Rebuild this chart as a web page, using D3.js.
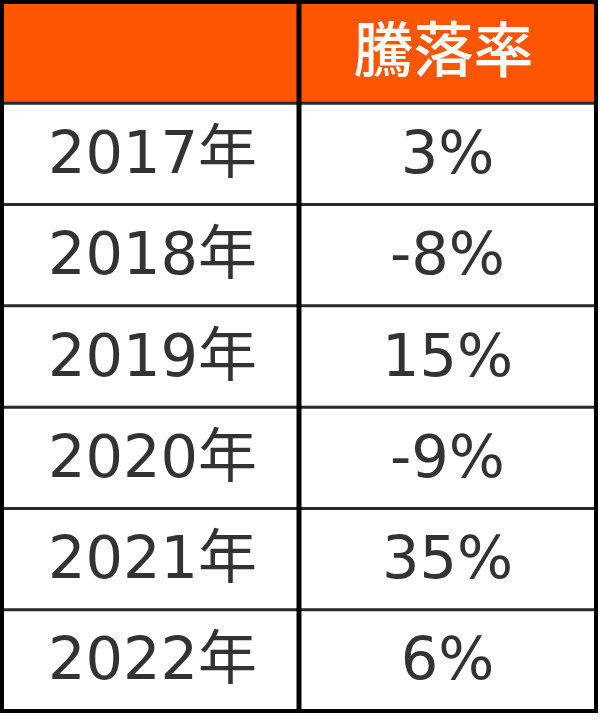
<!DOCTYPE html>
<meta charset="utf-8">
<style>
  body { margin: 0; background: #fff; }
</style>
<body>
<svg width="600" height="720"></svg>
<script src="https://cdn.jsdelivr.net/npm/d3@7"></script>
<script>
  // table data
  var header = ['', '騰落率'];
  var years = ['2017年', '2018年', '2019年', '2020年', '2021年', '2022年'];
  var rates = ['3%', '-8%', '15%', '-9%', '35%', '6%'];

  var svg = d3.select('svg');
  var g = svg.append('g');

  var rowKeys = ['header'].concat(years);
  var y = d3.scaleBand().domain(rowKeys).range([2, 711]);
  var x = d3.scaleBand().domain([0, 1]).range([2, 596]);

  var orange = '#ff5500';
  var textColor = '#333';

  // header background
  g.append('rect')
    .attr('x', x.range()[0])
    .attr('y', y('header'))
    .attr('width', x.range()[1] - x.range()[0])
    .attr('height', y.bandwidth())
    .attr('fill', orange);

  // horizontal row lines
  g.selectAll('.hline')
    .data(years)
    .enter()
    .append('line')
    .attr('class', 'hline')
    .attr('x1', x.range()[0])
    .attr('x2', x.range()[1])
    .attr('y1', function (d) { return y(d); })
    .attr('y2', function (d) { return y(d); })
    .attr('stroke', '#2a2a2a')
    .attr('stroke-width', 3);

  // column divider
  g.append('line')
    .attr('x1', x(1))
    .attr('x2', x(1))
    .attr('y1', y.range()[0])
    .attr('y2', y.range()[1])
    .attr('stroke', '#000')
    .attr('stroke-width', 5);

  // outer border
  g.append('rect')
    .attr('x', x.range()[0])
    .attr('y', y.range()[0])
    .attr('width', x.range()[1] - x.range()[0])
    .attr('height', y.range()[1] - y.range()[0])
    .attr('fill', 'none')
    .attr('stroke', '#000')
    .attr('stroke-width', 4);

  // header label
  g.append('text')
    .attr('x', x(1) + x.bandwidth() / 2 - 4)
    .attr('y', y('header') + 70)
    .attr('text-anchor', 'middle')
    .attr('fill', '#fff')
    .style('font-family', '"Noto Sans CJK JP", sans-serif')
    .style('font-weight', 500)
    .style('font-size', '60px')
    .text(header[1]);

  var rows = years.map(function (d, i) { return {year: d, rate: rates[i]}; });

  var font = '"DejaVu Sans", "Noto Sans CJK JP", sans-serif';

  g.selectAll('.year')
    .data(rows)
    .enter()
    .append('text')
    .attr('class', 'year')
    .attr('x', x(0) + x.bandwidth() / 2 + 2)
    .attr('y', function (d) { return y(d.year) + y.bandwidth() / 2 + 19; })
    .attr('text-anchor', 'middle')
    .attr('fill', textColor)
    .style('font-family', font)
    .style('font-size', '59px')
    .text(function (d) { return d.year; });

  g.selectAll('.rate')
    .data(rows)
    .enter()
    .append('text')
    .attr('class', 'rate')
    .attr('x', x(1) + x.bandwidth() / 2)
    .attr('y', function (d) { return y(d.year) + y.bandwidth() / 2 + 19; })
    .attr('text-anchor', 'middle')
    .attr('fill', textColor)
    .style('font-family', font)
    .style('font-size', '59px')
    .text(function (d) { return d.rate; });
</script>
</body>
